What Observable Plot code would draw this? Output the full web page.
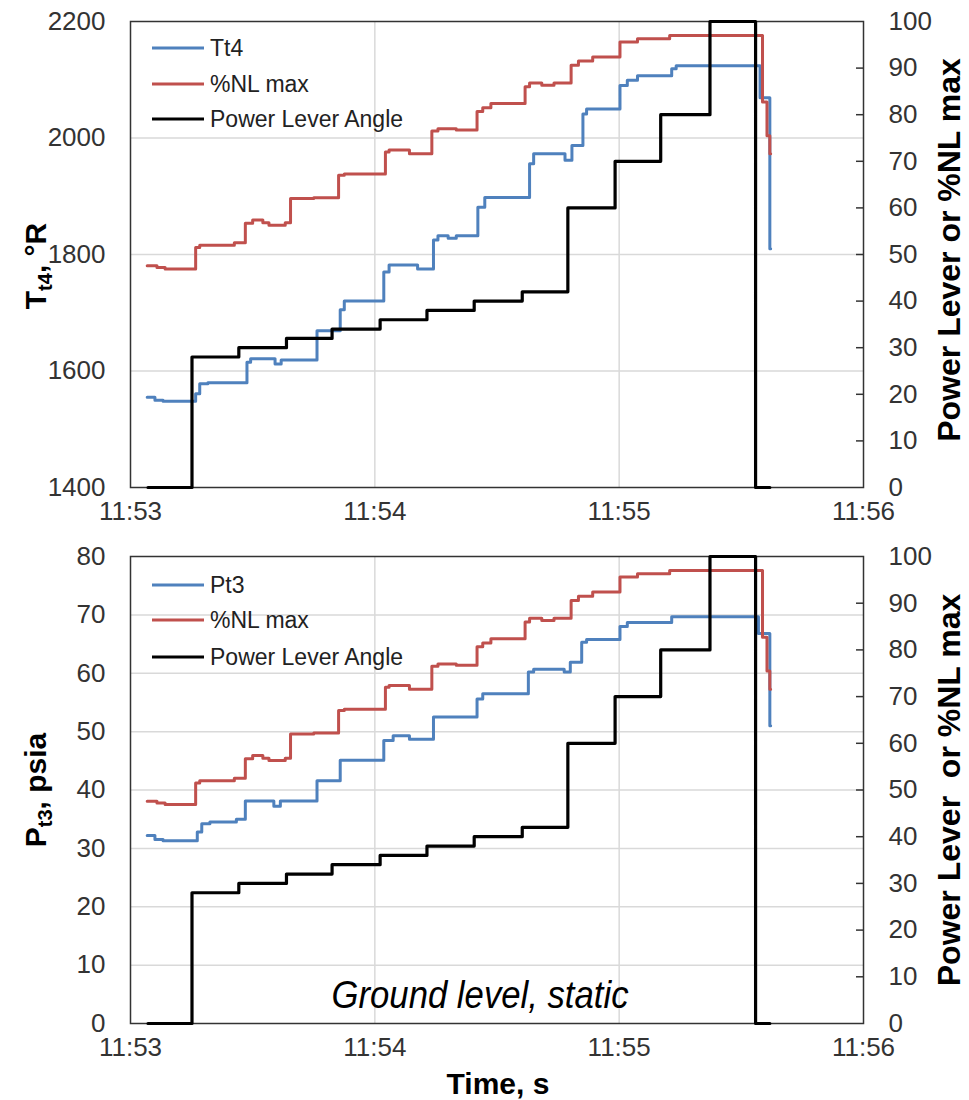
<!DOCTYPE html>
<html><head><meta charset="utf-8">
<script src="https://cdn.jsdelivr.net/npm/d3@7"></script>
<script src="https://cdn.jsdelivr.net/npm/@observablehq/plot@0.6"></script>
<style>
body{margin:0;background:#fff;}
#wrap{position:relative;width:969px;height:1100px;background:#fff;}
#wrap > svg{position:absolute;left:0;}
</style></head><body><div id="wrap"></div>
<script>
// time = seconds after 11:53:00
const xTickValues = [0, 60, 120, 180];
const xTickLabels = ["11:53", "11:54", "11:55", "11:56"];
const t4Ticks = [1400, 1600, 1800, 2000, 2200];
const p3Ticks = [0, 10, 20, 30, 40, 50, 60, 70, 80];
const rightTicks = [0, 10, 20, 30, 40, 50, 60, 70, 80, 90, 100];

const plaTime  = [4.3, 15.1, 26.6, 38.3, 49.5, 61.3, 72.8, 84.4, 96.2, 107.4, 119.0, 130.2, 142.3, 153.5, 157.0];
const plaValue = [0,   28,   30,   32,   34,   36,   38,   40,   42,   60,    70,    80,    100,   0,     0];

const nlTime  = [4.1, 6.5, 8.5, 16.0, 17.0, 23.5, 25.5, 28.2, 30.0, 32.5, 34.0, 38.0, 39.3, 45.0, 51.1, 52.5, 62.6, 63.5, 68.5, 74.0, 75.5, 80.0, 85.1, 86.5, 88.5, 96.9, 98.0, 101.0, 104.0, 108.2, 110.0, 113.5, 120.2, 124.5, 132.4, 155.2, 156.3, 157.0, 157.2];
const nlValue = [47.6, 47.2, 46.9, 51.5, 52.0, 52.0, 52.5, 56.7, 57.4, 56.8, 56.3, 56.8, 62.0, 62.2, 67.0, 67.3, 72.0, 72.4, 71.6, 76.5, 77.0, 76.7, 80.7, 81.5, 82.4, 86.0, 86.8, 86.3, 86.8, 90.6, 91.5, 92.4, 95.6, 96.3, 97.0, 82.7, 75.5, 71.6, 71.6];

const tt4Time  = [4.1, 6.0, 8.0, 16.0, 17.0, 19.0, 28.6, 29.5, 35.5, 37.0, 45.8, 51.5, 52.5, 62.2, 63.5, 70.5, 74.4, 75.5, 78.0, 80.0, 85.3, 87.0, 98.0, 99.0, 106.7, 108.4, 111.1, 112.0, 120.2, 122.0, 124.5, 132.9, 134.0, 154.6, 157.0, 157.2];
const tt4Value = [1555, 1550, 1548, 1561, 1578, 1580, 1615, 1621, 1612, 1619, 1669, 1705, 1720, 1770, 1782, 1775, 1825, 1832, 1828, 1832, 1881, 1898, 1956, 1973, 1962, 1987, 2041, 2050, 2090, 2099, 2107, 2119, 2124, 2069, 1810, 1810];

const pt3Time  = [4.1, 6.0, 8.0, 16.4, 17.5, 19.5, 26.0, 28.2, 35.2, 36.8, 45.8, 51.5, 62.2, 64.5, 68.5, 74.4, 85.1, 86.5, 97.7, 99.0, 106.5, 108.0, 110.8, 112.0, 120.2, 122.0, 132.9, 154.2, 157.0, 157.2];
const pt3Value = [32.2, 31.5, 31.3, 32.8, 34.2, 34.5, 35.0, 38.1, 37.2, 38.1, 41.6, 45.1, 48.5, 49.3, 48.7, 52.5, 55.6, 56.5, 60.2, 60.7, 60.2, 61.9, 65.3, 65.8, 68.0, 68.7, 69.7, 66.8, 51.0, 51.0];

const FONT = '"Liberation Sans", Arial, sans-serif';
const BLUE = "#4f81bd", RED = "#c0504d", BLACK = "#000000";

function panel(o) {
  const blue = o.blueT.map((t, i) => ({t, v: o.toPct(o.blueV[i])}));
  const red = nlTime.map((t, i) => ({t, v: nlValue[i]}));
  const black = plaTime.map((t, i) => ({t, v: plaValue[i]}));
  const svg = Plot.plot({
    width: 969, height: o.height,
    marginLeft: 130, marginRight: 106, marginTop: o.marginTop, marginBottom: o.marginBottom,
    x: {domain: [0, 180]},
    y: {domain: [0, 100]},
    style: {fontFamily: FONT, fontSize: "26px", color: "#333", background: "#fff", overflow: "visible"},
    marks: [
      Plot.ruleY(o.leftTicks.slice(1, -1).map(o.toPct), {stroke: "#d9d9d9", strokeWidth: 1.5}),
      Plot.ruleX(xTickValues.slice(1, -1), {stroke: "#d9d9d9", strokeWidth: 1.5}),
      Plot.frame({stroke: "#333", strokeWidth: 1.5}),
      Plot.line(blue, {x: "t", y: "v", curve: "step-after", stroke: BLUE, strokeWidth: 3}),
      Plot.line(red, {x: "t", y: "v", curve: "step-after", stroke: RED, strokeWidth: 3}),
      Plot.line(black, {x: "t", y: "v", curve: "step-after", stroke: BLACK, strokeWidth: 3.2}),
      Plot.axisY(o.leftTicks.map(o.toPct), {anchor: "left", tickSize: 0, tickPadding: 25, tickFormat: d => String(Math.round(o.fromPct(d))), label: null, fill: "#333"}),
      Plot.axisY(rightTicks, {anchor: "right", tickSize: 0, tickPadding: 25, label: null, fill: "#333"}),
      Plot.axisY(rightTicks.slice(1, -1), {anchor: "right", tickSize: 8, dx: -8, stroke: "#333", strokeWidth: 1.5, tickFormat: () => "", label: null}),
      Plot.axisX(xTickValues, {tickSize: 0, tickPadding: 14, tickFormat: d => xTickLabels[xTickValues.indexOf(d)], label: null, fill: "#333"})
    ]
  });
  const s = d3.select(svg);
  // legend
  const names = [o.blueName, "%NL max", "Power Lever Angle"];
  const cols = [BLUE, RED, BLACK];
  names.forEach((n, i) => {
    const y = o.marginTop + o.legendY[i];
    s.append("line").attr("x1", 152).attr("x2", 204).attr("y1", y).attr("y2", y)
      .attr("stroke", cols[i]).attr("stroke-width", 3);
    s.append("text").attr("x", 210).attr("y", y).attr("dy", "0.36em").attr("text-anchor", "start")
      .attr("font-family", FONT).attr("font-size", 23).attr("fill", "#222").text(n);
  });
  // left title
  const lt = s.append("text").attr("transform", `translate(46,${o.leftTitleY}) rotate(-90)`)
    .attr("text-anchor", "middle").attr("font-family", FONT).attr("font-weight", "bold")
    .attr("font-size", 30).attr("fill", "#000");
  lt.append("tspan").text(o.leftMain);
  lt.append("tspan").attr("font-size", 20).attr("dy", 6).text(o.leftSub);
  lt.append("tspan").attr("dy", -6).text(o.leftRest);
  // right title
  s.append("text").attr("transform", `translate(960,${o.rightTitleY}) rotate(-90)`)
    .attr("text-anchor", "middle").attr("font-family", FONT).attr("font-weight", "bold")
    .attr("font-size", 32).attr("fill", "#000")
    .style("white-space", "pre").text(o.rightTitle);
  return svg;
}

const wrap = document.getElementById("wrap");

const topPanel = panel({
  height: 530, marginTop: 21, marginBottom: 43,
  leftTicks: t4Ticks, toPct: v => (v - 1400) / 8, fromPct: p => p * 8 + 1400,
  blueT: tt4Time, blueV: tt4Value, blueName: "Tt4",
  legendY: [27, 63, 98],
  leftMain: "T", leftSub: "t4", leftRest: ", °R", leftTitleY: 266,
  rightTitle: "Power Lever or %NL max", rightTitleY: 250
});
topPanel.style.top = "0px";
wrap.appendChild(topPanel);

const bottomPanel = panel({
  height: 570, marginTop: 26, marginBottom: 77,
  leftTicks: p3Ticks, toPct: v => v * 1.25, fromPct: p => p / 1.25,
  blueT: pt3Time, blueV: pt3Value, blueName: "Pt3",
  legendY: [29, 64, 101],
  leftMain: "P", leftSub: "t3", leftRest: ", psia", leftTitleY: 260,
  rightTitle: "Power Lever  or %NL max", rightTitleY: 260
});
bottomPanel.style.top = "530px";
const bs = d3.select(bottomPanel);
bs.append("text").attr("x", 480).attr("y", 478).attr("text-anchor", "middle")
  .attr("font-family", '"Liberation Sans Narrow", "Liberation Sans", Arial, sans-serif')
  .attr("font-style", "italic").attr("font-size", 38).attr("fill", "#000")
  .attr("textLength", 297).attr("lengthAdjust", "spacingAndGlyphs").text("Ground level, static");
bs.append("text").attr("x", 498).attr("y", 564).attr("text-anchor", "middle")
  .attr("font-family", FONT).attr("font-weight", "bold").attr("font-size", 30).attr("fill", "#000")
  .text("Time, s");
wrap.appendChild(bottomPanel);
</script></body></html>
